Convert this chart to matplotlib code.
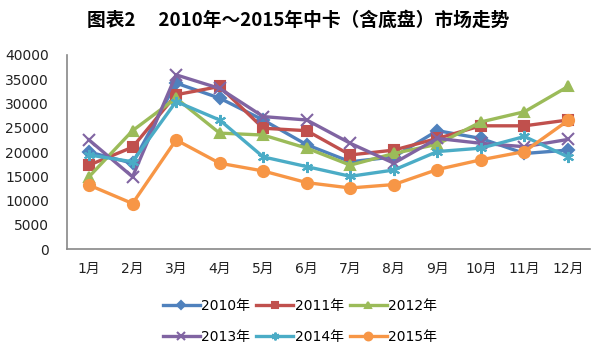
import matplotlib
matplotlib.use("Agg")
from matplotlib import pyplot as plt

plt.rcParams['font.family'] = ['DejaVu Sans', 'Noto Sans CJK SC']

months = ['1月', '2月', '3月', '4月', '5月', '6月', '7月', '8月', '9月', '10月', '11月', '12月']
y2010 = [20000, 17700, 34200, 31100, 26600, 21500, 18000, 19000, 24400, 22800, 19700, 20400]
y2011 = [17300, 21000, 31800, 33500, 24900, 24400, 19400, 20400, 22800, 25400, 25400, 26600]
y2012 = [14900, 24400, 31100, 23900, 23500, 20800, 17300, 19700, 21600, 26200, 28300, 33500]
y2013 = [22500, 14900, 35900, 33100, 27300, 26600, 21800, 17700, 22800, 21800, 21100, 22600]
y2014 = [19400, 18000, 30400, 26600, 19000, 17000, 15000, 16300, 20100, 20800, 23200, 19000]
y2015 = [13200, 9400, 22500, 17700, 16100, 13700, 12600, 13300, 16400, 18400, 20100, 26500]

series = [
    ('2010年', y2010, '#4F81BD', 'D', 6),
    ('2011年', y2011, '#C0504D', 's', 7),
    ('2012年', y2012, '#9BBB59', '^', 7),
    ('2013年', y2013, '#8064A2', 'x', 8),
    ('2014年', y2014, '#4BACC6', (6, 2, 0), 8),
    ('2015年', y2015, '#F79646', 'o', 8),
]

fig = plt.figure(figsize=(6, 3.59), dpi=100)
ax = fig.add_axes([0.112, 0.306, 0.871, 0.541])
x = list(range(1, 13))
handles = []
for name, vals, col, mk, ms in series:
    h, = ax.plot(x, vals, color=col, lw=2.4, marker=mk, markersize=ms,
                 markeredgewidth=1.5, label=name)
    handles.append(h)

ax.set_xlim(0.5, 12.5)
ax.set_ylim(0, 40000)
ax.set_yticks(range(0, 40001, 5000))
ax.set_xticks(x)
ax.set_xticklabels(months)
ax.tick_params(axis='both', labelsize=10, colors='#222222', length=0)
ax.tick_params(axis='x', pad=9)
ax.tick_params(axis='y', pad=13)
for s in ['top', 'right']:
    ax.spines[s].set_visible(False)
for s in ['left', 'bottom']:
    ax.spines[s].set_color('#888888')
    ax.spines[s].set_linewidth(1.2)

fig.text(0.497, 0.944, '图表2　 2010年～2015年中卡（含底盘）市场走势',
         ha='center', va='center', fontsize=13.5, fontweight='bold',
         family=['Noto Sans CJK SC', 'DejaVu Sans'])

# legend filled row by row
order = [0, 3, 1, 4, 2, 5]
fig.legend([handles[i] for i in order], [series[i][0] for i in order],
           loc='center', bbox_to_anchor=(0.5, 0.105), ncol=3, frameon=False,
           fontsize=10, handlelength=2.7, columnspacing=0.4, handletextpad=0.1,
           labelspacing=1.25, markerscale=0.7)

fig.savefig('out.png', dpi=100)
